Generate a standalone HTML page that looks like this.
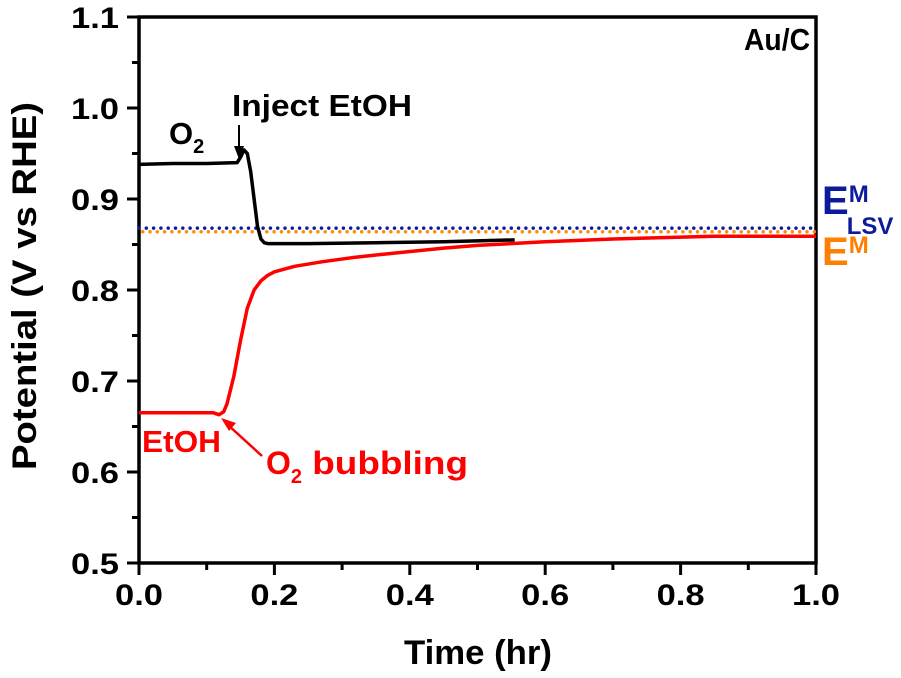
<!DOCTYPE html>
<html><head><meta charset="utf-8"><style>
body{margin:0;background:#fff}
svg{display:block;font-family:"Liberation Sans",Arial,sans-serif;font-weight:bold}
</style></head><body>
<svg width="901" height="678" viewBox="0 0 901 678">
<g id="axes"></g>
<g id="marks"></g>
<text x="810" y="50" font-size="31" text-anchor="end" textLength="66" lengthAdjust="spacingAndGlyphs">Au/C</text>
<text x="169" y="144" font-size="31">O<tspan font-size="20" dy="9">2</tspan></text>
<text x="232" y="116" font-size="31" textLength="180" lengthAdjust="spacingAndGlyphs">Inject EtOH</text>
<path d="M239 125 L239 152" stroke="#000" stroke-width="2" fill="none"/>
<path d="M234 146 L239 159 L244 146 Z" fill="#000"/>
<text x="142" y="452" font-size="31" fill="#f00" textLength="79" lengthAdjust="spacingAndGlyphs">EtOH</text>
<text x="266" y="474" font-size="32" fill="#f00">O<tspan font-size="20" dy="9">2</tspan><tspan dy="-9" textLength="166" lengthAdjust="spacingAndGlyphs"> bubbling</tspan></text>
<path d="M262 456 L228 425" stroke="#f00" stroke-width="2.5" fill="none"/>
<path d="M221 418 L236 423 L229 431 Z" fill="#f00"/>
<text x="822" y="214" font-size="40" fill="#0d1a9a">E<tspan font-size="24" dy="-12">M</tspan><tspan font-size="24" dx="-22" dy="32">LSV</tspan></text>
<text x="822" y="265" font-size="40" fill="#ff7f00">E<tspan font-size="24" dy="-12">M</tspan></text>
<text x="478" y="664" font-size="34" text-anchor="middle" textLength="148" lengthAdjust="spacingAndGlyphs">Time (hr)</text>
<text transform="translate(36,286) rotate(-90)" font-size="34" text-anchor="middle" textLength="368" lengthAdjust="spacingAndGlyphs">Potential (V vs RHE)</text>
</svg>
<script>
const xTicks=[0,0.2,0.4,0.6,0.8,1.0];
const yTicks=[0.5,0.6,0.7,0.8,0.9,1.0,1.1];
const blackT=[0,0.05,0.1,0.145,0.15,0.155,0.16,0.165,0.17,0.175,0.18,0.185,0.19,0.25,0.35,0.45,0.555];
const blackV=[0.938,0.939,0.939,0.940,0.946,0.954,0.950,0.930,0.900,0.870,0.856,0.852,0.851,0.851,0.852,0.853,0.855];
const redT=[0,0.05,0.11,0.118,0.125,0.13,0.14,0.15,0.16,0.17,0.18,0.19,0.2,0.23,0.27,0.32,0.37,0.45,0.5,0.6,0.7,0.85,1.0];
const redV=[0.665,0.665,0.665,0.663,0.666,0.675,0.705,0.745,0.780,0.800,0.810,0.816,0.820,0.826,0.831,0.836,0.840,0.846,0.849,0.853,0.856,0.859,0.859];
const lsvLevel=0.868, emLevel=0.864;
const X=v=>139+v*677, Y=v=>563-(v-0.5)*910;
const NS='http://www.w3.org/2000/svg';
const axes=document.getElementById('axes'), marks=document.getElementById('marks');
function mk(tag,attrs,parent){const e=document.createElementNS(NS,tag);for(const k in attrs)e.setAttribute(k,attrs[k]);parent.appendChild(e);return e;}
let e=mk('line',{x1:X(0),x2:X(1),y1:Y(lsvLevel),y2:Y(lsvLevel),stroke:'#0d1a9a','stroke-width':3.5,'stroke-dasharray':'0 7.3','stroke-linecap':'round'},marks);


e=mk('line',{x1:X(0),x2:X(1),y1:Y(emLevel),y2:Y(emLevel),stroke:'#ff8c00','stroke-width':3.5,'stroke-dasharray':'0 7.3','stroke-dashoffset':3.6,'stroke-linecap':'round'},marks);


const pts=(T,V)=>T.map((t,i)=>X(t).toFixed(1)+','+Y(V[i]).toFixed(1)).join(' ');
e=mk('polyline',{points:pts(redT,redV),fill:'none',stroke:'#f00','stroke-width':3.5,'stroke-linejoin':'round'},marks);


e=mk('polyline',{points:pts(blackT,blackV),fill:'none',stroke:'#000','stroke-width':3.5,'stroke-linejoin':'round'},marks);


e=mk('rect',{x:139,y:17,width:677,height:546,fill:'none',stroke:'#000','stroke-width':3.5},axes);


xTicks.forEach((t,i)=>{
 let l=mk('line',{x1:X(t),x2:X(t),y1:563,y2:575,stroke:'#000','stroke-width':3},axes);
 
 
 let tx=mk('text',{x:X(t),y:605,'font-size':30,'text-anchor':'middle',textLength:48,lengthAdjust:'spacingAndGlyphs'},axes);tx.textContent=t.toFixed(1);
 
 
 if(i<xTicks.length-1){let m=mk('line',{x1:X(t+0.1),x2:X(t+0.1),y1:563,y2:570,stroke:'#000','stroke-width':3},axes);
 
 }
});
yTicks.forEach((v,i)=>{
 let l=mk('line',{x1:127,x2:139,y1:Y(v),y2:Y(v),stroke:'#000','stroke-width':3},axes);
 
 
 let tx=mk('text',{x:119,y:Y(v)+11,'font-size':30,'text-anchor':'end',textLength:48,lengthAdjust:'spacingAndGlyphs'},axes);tx.textContent=v.toFixed(1);
 
 
 if(i<yTicks.length-1){let m=mk('line',{x1:132,x2:139,y1:Y(v+0.05),y2:Y(v+0.05),stroke:'#000','stroke-width':3},axes);
 
 }
});
</script>
</body></html>
